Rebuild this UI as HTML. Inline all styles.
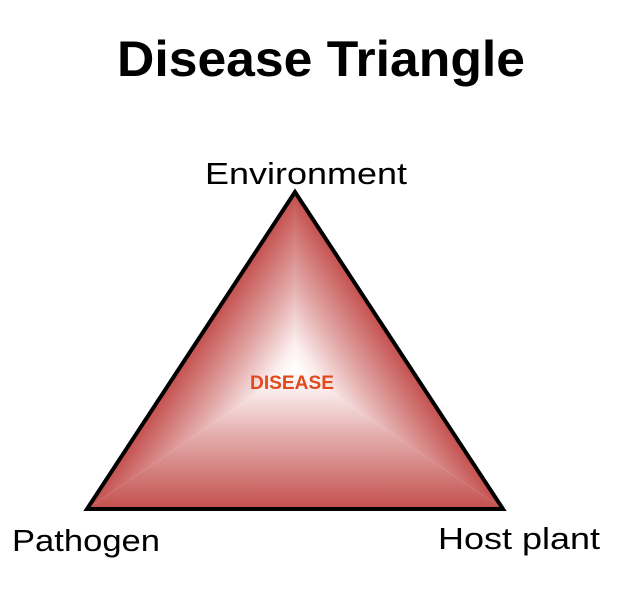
<!DOCTYPE html>
<html><head><meta charset="utf-8"><style>
html,body{margin:0;padding:0;background:#fff;}
svg{display:block;}
text{font-family:"Liberation Sans",sans-serif;}
</style></head><body>
<svg width="619" height="616" viewBox="0 0 619 616" xmlns="http://www.w3.org/2000/svg">
<defs>
<linearGradient id="gb" gradientUnits="userSpaceOnUse" x1="295" y1="509" x2="295" y2="368">
<stop offset="0" stop-color="#c4504e"/><stop offset="0.5" stop-color="#e2a9a8"/><stop offset="0.85" stop-color="#fbeeee"/><stop offset="1" stop-color="#ffffff"/></linearGradient>
<linearGradient id="gl" gradientUnits="userSpaceOnUse" x1="214" y1="315" x2="295" y2="368">
<stop offset="0" stop-color="#c4504e"/><stop offset="0.5" stop-color="#e2a9a8"/><stop offset="0.85" stop-color="#fbeeee"/><stop offset="1" stop-color="#ffffff"/></linearGradient>
<linearGradient id="gr" gradientUnits="userSpaceOnUse" x1="376" y1="315" x2="295" y2="368">
<stop offset="0" stop-color="#c4504e"/><stop offset="0.5" stop-color="#e2a9a8"/><stop offset="0.85" stop-color="#fbeeee"/><stop offset="1" stop-color="#ffffff"/></linearGradient>
</defs>
<text x="321" y="76" text-anchor="middle" font-size="50" font-weight="bold" textLength="408" lengthAdjust="spacingAndGlyphs">Disease Triangle</text>
<text x="306" y="184" text-anchor="middle" font-size="31" textLength="202" lengthAdjust="spacingAndGlyphs">Environment</text>
<text x="12" y="551" font-size="31" textLength="148" lengthAdjust="spacingAndGlyphs">Pathogen</text>
<text x="438" y="549" font-size="31" textLength="162" lengthAdjust="spacingAndGlyphs">Host plant</text>
<polygon points="87,509 503,509 295,368" fill="url(#gb)"/>
<polygon points="87,509 295,192 295,368" fill="url(#gl)"/>
<polygon points="503,509 295,192 295,368" fill="url(#gr)"/>
<polygon points="295,192 87,509 503,509" fill="none" stroke="#000" stroke-width="4" stroke-linejoin="miter"/>
<text x="292" y="389" text-anchor="middle" font-size="19" font-weight="bold" fill="#e04a1c" textLength="84" lengthAdjust="spacingAndGlyphs">DISEASE</text>
</svg>
</body></html>
